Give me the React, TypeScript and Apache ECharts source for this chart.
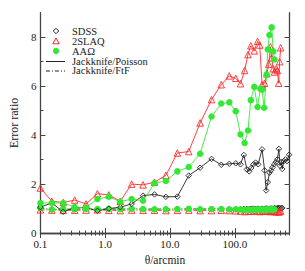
import React, { useEffect, useRef } from "react";
import * as echarts from "echarts";

// ---- data (theta in arcmin, error ratios) ----
const thetaSmall = [0.1, 0.15, 0.225, 0.338, 0.506, 0.759, 1.14, 1.71, 2.56, 3.84, 5.77, 8.65, 13.0, 19.5, 29.2, 43.8];

const sdssTheta = [...thetaSmall, 61.9, 82.4, 103.5, 122.8, 138, 154, 167, 179, 194, 210, 230, 264, 289, 305, 324, 343, 363, 384, 407, 431, 455, 480, 499, 522, 541, 572, 606, 641, 690];
const sdssPoisson = [1.06, 1.23, 0.87, 1.04, 1.04, 0.91, 1.0, 1.06, 1.19, 1.53, 1.58, 1.48, 1.49, 2.35, 2.67, 3.03,
  2.79, 2.83, 2.85, 2.81, 3.19, 2.6, 2.52, 2.66, 2.81, 2.88, 2.81, 3.42, 2.56, 1.74, 2.08, 2.46, 2.56, 2.68, 2.81, 2.9, 3.01, 3.44, 2.75, 2.9, 2.62, 2.94, 3.01, 2.94, 3.2];
const sdssFtF = [1.0, 0.97, 0.97, 0.98, 0.98, 0.98, 0.98, 0.98, 0.99, 0.98, 0.98, 0.98, 0.98, 0.99, 0.98, 0.99,
  0.99, 0.98, 0.98, 0.98, 0.99, 0.99, 0.98, 0.99, 1.0, 0.99, 1.0, 1.0, 0.99, 1.01, 1.0, 1.0, 1.01, 1.0, 1.02, 1.01, 1.02, 1.03, 1.02, 1.01, 1.03];

const slaqTheta = [...thetaSmall, 61.9, 82.4, 103.5, 122.8, 142, 160, 177, 200, 225, 243, 264, 289, 313, 335, 355, 371, 393, 411, 436, 455, 476, 493, 511];
const slaqPoisson = [1.84, 1.3, 1.25, 1.35, 1.19, 1.61, 1.56, 1.3, 2.0, 1.97, 2.08, 2.36, 3.27, 3.33, 4.5, 5.45,
  6.06, 6.42, 6.32, 6.1, 6.64, 7.29, 7.65, 7.44, 7.83, 7.68, 6.06, 6.12, 6.51, 6.9, 7.61, 7.16, 6.71, 6.58, 6.71, 6.64, 6.12, 7.0, 7.57];
const slaqFtF = [0.95, 0.94, 0.93, 0.93, 0.94, 0.95, 0.93, 0.92, 0.94, 0.93, 0.93, 0.92, 0.93, 0.94, 0.92, 0.92,
  0.93, 0.92, 0.91, 0.9, 0.88, 0.9, 0.89, 0.91, 0.9, 0.88, 0.9, 0.89, 0.91, 0.9, 0.88, 0.89, 0.9, 0.88, 0.87, 0.89, 0.86, 0.88, 0.9];

const aaoTheta = [...thetaSmall, 61.9, 82.4, 103.5, 122.8, 142, 160, 177, 200, 225, 248, 264, 284, 310, 324, 343, 371, 393, 411];
const aaoPoisson = [1.23, 1.23, 1.23, 1.06, 1.04, 1.39, 1.49, 1.28, 1.39, 1.32, 2.04, 2.13, 2.52, 2.7, 3.24, 4.76,
  5.29, 5.34, 4.98, 4.03, 3.68, 4.19, 5.43, 5.97, 5.15, 5.89, 5.86, 5.12, 6.47, 7.5, 8.09, 8.4, 7.42, 7.09];
const aaoFtF = [1.04, 0.96, 0.99, 0.97, 0.99, 0.98, 0.99, 0.98, 0.99, 0.98, 0.97, 0.97, 0.98, 0.99, 0.97, 0.98,
  0.98, 0.97, 0.97, 0.96, 0.95, 0.96, 0.95, 0.96, 0.96, 0.97, 0.95, 0.96, 0.97, 0.96, 0.97, 0.97, 0.96, 0.97];

// ---- ticks ----
const xMajor = [0.1, 1, 10, 100];
const xMinor = [0.2, 0.3, 0.4, 0.5, 0.6, 0.7, 0.8, 0.9, 2, 3, 4, 5, 6, 7, 8, 9, 20, 30, 40, 50, 60, 70, 80, 90, 200, 300, 400, 500, 600, 700];
const yMajor = [0, 2, 4, 6, 8];
const yMinor = [1, 3, 5, 7];

const legendLabels = ["SDSS", "2SLAQ", "AAΩ", "Jackknife/Poisson", "Jackknife/FtF"];

const BLACK = "#222222";
const RED = "#ff2a2a";
const GREEN = "#33e833";
const FONT = "'Liberation Serif', 'Times New Roman', serif";

const zip = (xs: number[], ys: number[]) => ys.map((y, i) => [xs[i], y]);

export default function App() {
  const ref = useRef<HTMLDivElement>(null);
  useEffect(() => {
    document.body.style.margin = "0";
    const chart = echarts.init(ref.current!, null, { renderer: "svg" });
    const axisLine = { show: true, lineStyle: { color: "#444", width: 1.3 } };
    const xBase = { type: "log", min: 0.1, max: 700, logBase: 10, splitLine: { show: false }, axisLine };
    const yBase = { type: "value", min: 0, max: 9, splitLine: { show: false }, axisLine };
    const tickStyle = { color: "#444", width: 1 };
    const mkSeries = (name: string, xs: number[], ys: number[], color: string, symbol: string, size: number, filled: boolean, dashed: boolean) => ({
      name,
      type: "line",
      data: zip(xs, ys),
      symbol,
      symbolSize: size,
      showSymbol: true,
      lineStyle: { color, width: 0.9, type: dashed ? [4, 2, 1, 2] : "solid" },
      itemStyle: filled
        ? { color, borderColor: color, borderWidth: 0 }
        : { color: "rgba(0,0,0,0)", borderColor: color, borderWidth: 0.9 },
      emphasis: { disabled: true },
    });
    chart.setOption({
      animation: false,
      backgroundColor: "#ffffff",
      textStyle: { fontFamily: FONT },
      grid: { left: 30, right: 15.5, top: 12.7, bottom: 27.5 },
      xAxis: [
        {
          ...xBase, position: "bottom",
          axisTick: { show: true, inside: true, length: 5, customValues: xMajor, lineStyle: tickStyle },
          axisLabel: { show: true, customValues: xMajor, margin: 5, fontSize: 11, fontFamily: FONT, color: "#222", formatter: (v: number) => v.toFixed(1) },
          name: "θ/arcmin", nameLocation: "middle", nameGap: 17, nameTextStyle: { fontSize: 11.5, fontFamily: FONT, color: "#222" },
        },
        { ...xBase, position: "bottom", axisLine: { show: false }, axisTick: { show: true, inside: true, length: 2.5, customValues: xMinor, lineStyle: tickStyle }, axisLabel: { show: false } },
        { ...xBase, position: "top", axisTick: { show: true, inside: true, length: 5, customValues: xMajor, lineStyle: tickStyle }, axisLabel: { show: false } },
        { ...xBase, position: "top", axisLine: { show: false }, axisTick: { show: true, inside: true, length: 2.5, customValues: xMinor, lineStyle: tickStyle }, axisLabel: { show: false } },
      ],
      yAxis: [
        {
          ...yBase, position: "left",
          axisTick: { show: true, inside: true, length: 5, customValues: yMajor, lineStyle: tickStyle },
          axisLabel: { show: true, customValues: yMajor, margin: 4, fontSize: 11, fontFamily: FONT, color: "#222" },
          name: "Error ratio", nameLocation: "middle", nameGap: 14, nameTextStyle: { fontSize: 12, fontFamily: FONT, color: "#222" },
        },
        { ...yBase, position: "left", axisLine: { show: false }, axisTick: { show: true, inside: true, length: 3, customValues: yMinor, lineStyle: tickStyle }, axisLabel: { show: false } },
        { ...yBase, position: "right", axisTick: { show: true, inside: true, length: 5, customValues: yMajor, lineStyle: tickStyle }, axisLabel: { show: false } },
        { ...yBase, position: "right", axisLine: { show: false }, axisTick: { show: true, inside: true, length: 3, customValues: yMinor, lineStyle: tickStyle }, axisLabel: { show: false } },
      ],
      series: [
        mkSeries("SDSS Jackknife/FtF", sdssTheta, sdssFtF, BLACK, "diamond", 5.5, false, true),
        mkSeries("2SLAQ Jackknife/FtF", slaqTheta, slaqFtF, RED, "triangle", 6.5, false, true),
        mkSeries("AAΩ Jackknife/FtF", aaoTheta, aaoFtF, GREEN, "circle", 6.5, true, true),
        mkSeries("SDSS Jackknife/Poisson", sdssTheta, sdssPoisson, BLACK, "diamond", 5.5, false, false),
        mkSeries("2SLAQ Jackknife/Poisson", slaqTheta, slaqPoisson, RED, "triangle", 6.5, false, false),
        mkSeries("AAΩ Jackknife/Poisson", aaoTheta, aaoPoisson, GREEN, "circle", 6.5, true, false),
      ],
      graphic: [
        { type: "polygon", shape: { points: [[56, 28.3], [58.7, 31], [56, 33.7], [53.3, 31]] }, style: { fill: "none", stroke: BLACK, lineWidth: 1 } },
        { type: "polygon", shape: { points: [[56, 38], [59.2, 43.8], [52.8, 43.8]] }, style: { fill: "none", stroke: RED, lineWidth: 1 } },
        { type: "circle", shape: { cx: 56, cy: 51, r: 3.1 }, style: { fill: GREEN } },
        { type: "line", shape: { x1: 46, y1: 61.5, x2: 65, y2: 61.5 }, style: { stroke: BLACK, lineWidth: 1 } },
        { type: "line", shape: { x1: 46, y1: 71, x2: 65, y2: 71 }, style: { stroke: BLACK, lineWidth: 1, lineDash: [4, 2, 1, 2] } },
        ...legendLabels.map((t, i) => ({
          type: "text", x: 72, y: [31, 41, 51, 61, 70.5][i],
          style: { text: t, fontSize: 10.5, lineHeight: 9.5, fontFamily: FONT, fill: "#222", verticalAlign: "middle", align: "left" },
        })),
      ],
    });
    return () => chart.dispose();
  }, []);
  return <div ref={ref} style={{ width: 305, height: 271 }} />;
}
